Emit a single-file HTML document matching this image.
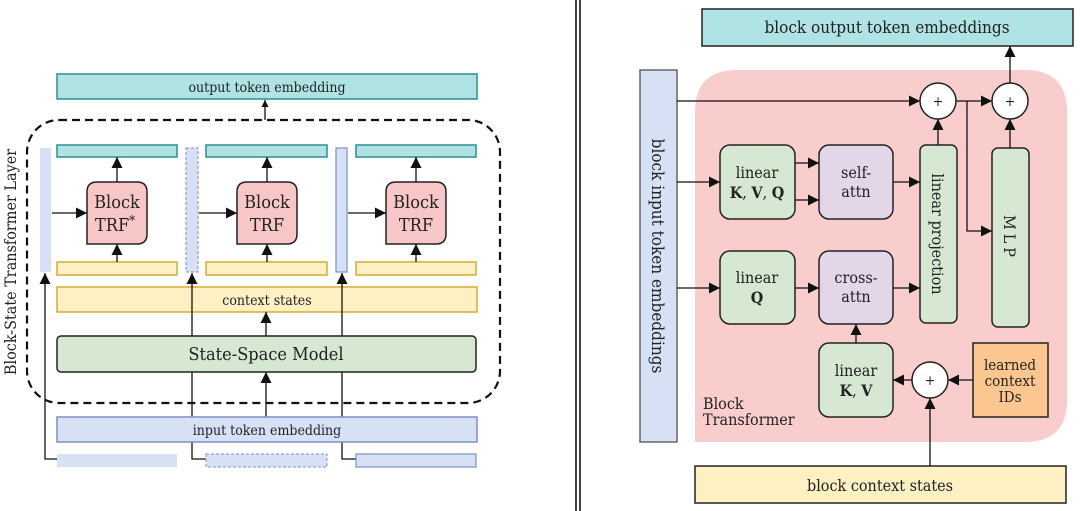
<!DOCTYPE html>
<html><head><meta charset="utf-8">
<style>html,body{margin:0;padding:0;background:#fff;}svg{display:block;}
text{font-family:"DejaVu Serif","Liberation Serif",serif;font-stretch:condensed;fill:#222;}
</style></head><body>
<svg width="1080" height="511" viewBox="0 0 1080 511" xmlns="http://www.w3.org/2000/svg">
<defs>
<marker id="a" viewBox="0 0 10 10" refX="10" refY="5" markerWidth="7" markerHeight="7" orient="auto-start-reverse" markerUnits="userSpaceOnUse"><path d="M0,0L10,5L0,10z" fill="#111"/></marker>
<marker id="b" viewBox="0 0 10 10" refX="10" refY="5" markerWidth="11" markerHeight="11" orient="auto-start-reverse" markerUnits="userSpaceOnUse"><path d="M0,0L10,5L0,10z" fill="#111"/></marker>
</defs>
<!-- LEFT -->
<g font-size="14">
<rect x="57" y="74" width="420" height="25" fill="#b0e3e4" stroke="#2c8e94" stroke-width="1.5"/>
<text x="267" y="92" text-anchor="middle" font-size="14">output token embedding</text>
<rect x="27" y="120" width="473" height="283" rx="32" fill="none" stroke="#111" stroke-width="2.2" stroke-dasharray="8,5"/>
<line x1="265" y1="120" x2="265" y2="100" stroke="#111" stroke-width="1.3" marker-end="url(#a)"/>
<g fill="#b0e3e4" stroke="#2c8e94" stroke-width="1.5">
<rect x="57" y="145" width="120" height="12"/><rect x="206" y="145" width="121" height="12"/><rect x="356" y="145" width="120" height="12"/></g>
<g fill="#fdf1c4" stroke="#d9ab34" stroke-width="1.5">
<rect x="57" y="262" width="120" height="13"/><rect x="206" y="262" width="121" height="13"/><rect x="356" y="262" width="120" height="13"/>
<rect x="57" y="287" width="420" height="25"/></g>
<text x="267" y="305" text-anchor="middle" font-size="14">context states</text>
<rect x="40" y="148" width="11" height="124" fill="#d6e1f5" stroke="none"/>
<rect x="186" y="148" width="12" height="124" fill="#d6e1f5" stroke="#7d8fc6" stroke-width="1" stroke-dasharray="3,2"/>
<rect x="336" y="148" width="11" height="124" fill="#d6e1f5" stroke="#7d8fc6" stroke-width="1.2"/>
<g fill="#f7c6c6" stroke="#222" stroke-width="1.5">
<path d="M87,244 V192 Q87,182 97,182 H137 Q147,182 147,192 V234 Q147,244 137,244 Z"/>
<path d="M237,244 V192 Q237,182 247,182 H287 Q297,182 297,192 V234 Q297,244 287,244 Z"/>
<path d="M386,244 V192 Q386,182 396,182 H436 Q446,182 446,192 V234 Q446,244 436,244 Z"/></g>
<g font-size="18" text-anchor="middle">
<text x="117" y="208">Block</text><text x="115" y="231">TRF<tspan font-size="13" dy="-6">*</tspan></text>
<text x="267" y="208">Block</text><text x="267" y="231">TRF</text>
<text x="416" y="208">Block</text><text x="416" y="231">TRF</text></g>
<g stroke="#111" stroke-width="1.3" fill="none">
<line x1="52" y1="213" x2="87" y2="213" marker-end="url(#b)"/>
<line x1="199" y1="213" x2="237" y2="213" marker-end="url(#b)"/>
<line x1="348" y1="213" x2="386" y2="213" marker-end="url(#b)"/>
<line x1="117" y1="182" x2="117" y2="157" marker-end="url(#b)"/>
<line x1="267" y1="182" x2="267" y2="157" marker-end="url(#b)"/>
<line x1="416" y1="182" x2="416" y2="157" marker-end="url(#b)"/>
<line x1="117" y1="262" x2="117" y2="244" marker-end="url(#b)"/>
<line x1="267" y1="262" x2="267" y2="244" marker-end="url(#b)"/>
<line x1="416" y1="262" x2="416" y2="244" marker-end="url(#b)"/>
<polyline points="57,459 45,459 45,273" marker-end="url(#b)"/>
<polyline points="206,459 192,459 192,273" marker-end="url(#b)"/>
<polyline points="356,459 342,459 342,273" marker-end="url(#b)"/>
<line x1="266" y1="336" x2="266" y2="312" marker-end="url(#b)"/>
<line x1="266" y1="417" x2="266" y2="372" marker-end="url(#b)"/>
</g>
<rect x="57" y="336" width="419" height="36" rx="4" fill="#d6e8d2" stroke="#222" stroke-width="1.5"/>
<text x="266" y="360" text-anchor="middle" font-size="18">State-Space Model</text>
<rect x="57" y="417" width="420" height="25" fill="#d6e1f5" stroke="#7d8fc6" stroke-width="1.5"/>
<text x="267" y="435" text-anchor="middle" font-size="14">input token embedding</text>
<rect x="57" y="454" width="120" height="13" fill="#d6e1f5"/>
<rect x="206" y="454" width="121" height="13" fill="#d6e1f5" stroke="#7d8fc6" stroke-dasharray="3,2"/>
<rect x="356" y="454" width="120" height="13" fill="#d6e1f5" stroke="#7d8fc6" stroke-width="1.2"/>
<text transform="translate(16,262) rotate(-90)" text-anchor="middle" font-size="16">Block-State Transformer Layer</text>
</g>
<!-- divider -->
<line x1="576" y1="0" x2="576" y2="511" stroke="#111" stroke-width="1.6"/>
<line x1="580" y1="0" x2="580" y2="511" stroke="#111" stroke-width="1.6"/>
<!-- RIGHT -->
<path d="M695,442 V112 Q695,70 737,70 H1025 Q1067,70 1067,112 V400 Q1067,442 1025,442 Z" fill="#f8cdcc"/>
<rect x="702" y="9" width="371" height="37" fill="#b0e3e4" stroke="#222" stroke-width="1.5"/>
<text x="887" y="33" text-anchor="middle" font-size="17">block output token embeddings</text>
<rect x="640" y="70" width="37" height="372" fill="#d6e1f5" stroke="#666" stroke-width="1.5"/>
<text transform="translate(652,256) rotate(90)" text-anchor="middle" font-size="17">block input token embeddings</text>
<g stroke="#222" stroke-width="1.5">
<rect x="720" y="145" width="75" height="74" rx="10" fill="#d6e8d2"/>
<rect x="819" y="145" width="74" height="74" rx="10" fill="#e2d6e8"/>
<rect x="720" y="251" width="75" height="73" rx="10" fill="#d6e8d2"/>
<rect x="819" y="251" width="74" height="73" rx="10" fill="#e2d6e8"/>
<rect x="920" y="145" width="37" height="178" rx="6" fill="#d6e8d2"/>
<rect x="992" y="148" width="37" height="179" rx="6" fill="#d6e8d2"/>
<rect x="819" y="343" width="74" height="74" rx="10" fill="#d6e8d2"/>
<rect x="973" y="343" width="75" height="74" fill="#fbc690"/>
<rect x="695" y="466" width="371" height="37" fill="#fdf1c4"/>
</g>
<g stroke="#111" stroke-width="1.3" fill="none">
<line x1="677" y1="101" x2="920" y2="101" marker-end="url(#b)"/>
<line x1="677" y1="182" x2="720" y2="182" marker-end="url(#b)"/>
<line x1="677" y1="288" x2="720" y2="288" marker-end="url(#b)"/>
<line x1="795" y1="163" x2="819" y2="163" marker-end="url(#b)"/>
<line x1="795" y1="200" x2="819" y2="200" marker-end="url(#b)"/>
<line x1="893" y1="182" x2="920" y2="182" marker-end="url(#b)"/>
<line x1="795" y1="288" x2="819" y2="288" marker-end="url(#b)"/>
<line x1="893" y1="288" x2="920" y2="288" marker-end="url(#b)"/>
<line x1="856" y1="343" x2="856" y2="324" marker-end="url(#b)"/>
<line x1="912" y1="380" x2="893" y2="380" marker-end="url(#b)"/>
<line x1="973" y1="380" x2="948" y2="380" marker-end="url(#b)"/>
<line x1="930" y1="466" x2="930" y2="398" marker-end="url(#b)"/>
<line x1="938" y1="145" x2="938" y2="119" marker-end="url(#b)"/>
<line x1="956" y1="101" x2="992" y2="101" marker-end="url(#b)"/>
<polyline points="967,101 967,231 992,231" marker-end="url(#b)"/>
<line x1="1010" y1="148" x2="1010" y2="119" marker-end="url(#b)"/>
<line x1="1010" y1="83" x2="1010" y2="46" marker-end="url(#b)"/>
</g>
<g fill="#fff" stroke="#222" stroke-width="1.5">
<circle cx="938" cy="101" r="18"/><circle cx="1010" cy="101" r="18"/><circle cx="930" cy="380" r="18"/></g>
<g font-size="14" text-anchor="middle"><text x="938" y="106">+</text><text x="1010" y="106">+</text><text x="930" y="385">+</text></g>
<g font-size="16" text-anchor="middle">
<text x="757" y="178">linear</text><text x="757" y="198" font-weight="bold">K<tspan font-weight="normal">, </tspan>V<tspan font-weight="normal">, </tspan>Q</text>
<text x="856" y="178">self-</text><text x="856" y="197">attn</text>
<text x="757" y="283">linear</text><text x="757" y="303" font-weight="bold">Q</text>
<text x="856" y="283">cross-</text><text x="856" y="302">attn</text>
<text x="856" y="376">linear</text><text x="856" y="396" font-weight="bold">K<tspan font-weight="normal">, </tspan>V</text>
<text x="1010" y="370" font-size="15">learned</text><text x="1010" y="386" font-size="15">context</text><text x="1010" y="402" font-size="15">IDs</text>
<text transform="translate(932,234) rotate(90)" font-size="16">linear projection</text>
<text transform="translate(1004,238) rotate(90)" font-size="16" letter-spacing="4">MLP</text>
<text x="880" y="491">block context states</text>
</g>
<text x="703" y="409" font-size="16">Block</text>
<text x="703" y="425" font-size="16">Transformer</text>
</svg>
</body></html>
